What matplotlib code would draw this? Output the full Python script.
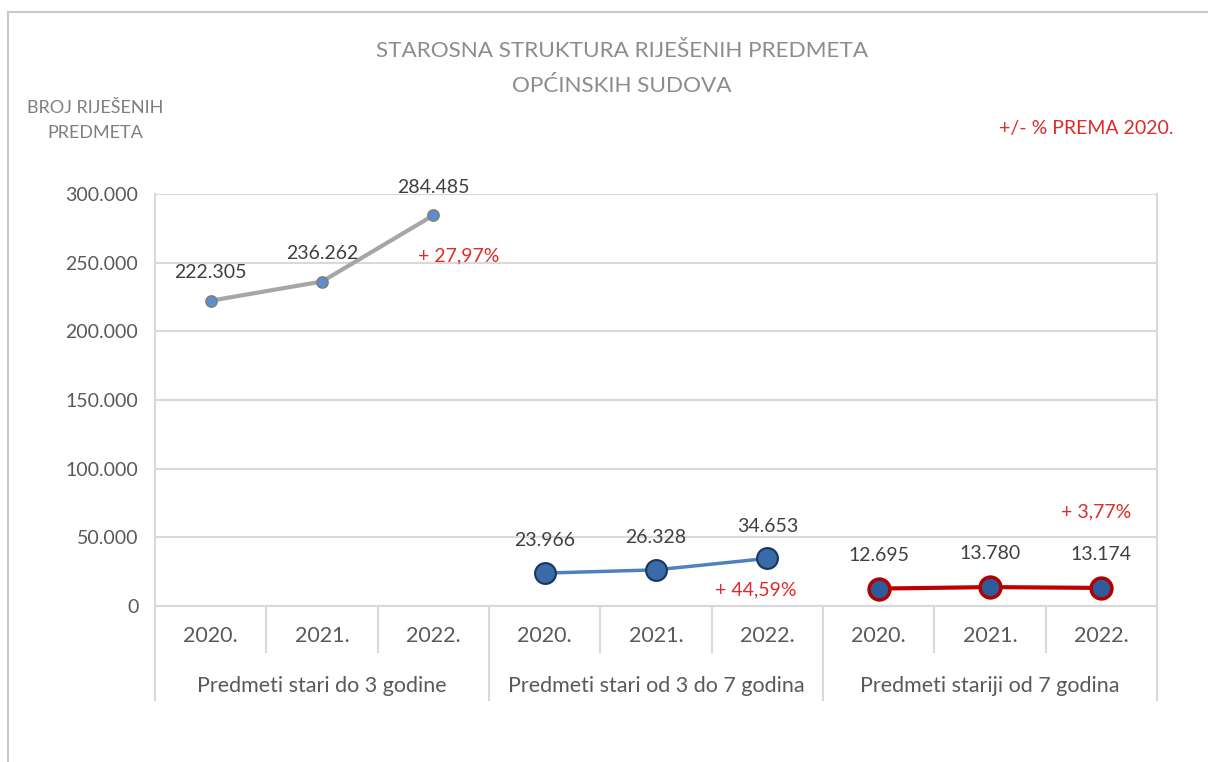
import matplotlib.pyplot as plt
from matplotlib.lines import Line2D

years = ['2020.', '2021.', '2022.']
groups = ['Predmeti stari do 3 godine', 'Predmeti stari od 3 do 7 godina', 'Predmeti stariji od 7 godina']
old_to_3 = [222305, 236262, 284485]
old_3_to_7 = [23966, 26328, 34653]
older_7 = [12695, 13780, 13174]
change_pct = ['+ 27,97%', '+ 44,59%', '+ 3,77%']
yticks = [0, 50000, 100000, 150000, 200000, 250000, 300000]

plt.rcParams['font.family'] = ['Lato', 'DejaVu Sans']

grid_c = '#d9d9d9'
text_c = '#595959'
label_c = '#404040'
red_c = '#e02b2b'


def fmt(v):
    return f'{v:,}'.replace(',', '.')


fig = plt.figure(figsize=(12.08, 7.62), dpi=100)
ax = fig.add_axes([0.1283, 0.2047, 0.8295, 0.5407])

# outer chart border (left and top only visible)
fig.add_artist(Line2D([0.0066, 0.0066], [0, 0.984], color='#c8c8c8', lw=1.5))
fig.add_artist(Line2D([0.0066, 1.0], [0.984, 0.984], color='#c8c8c8', lw=1.5))

ax.set_xlim(-0.5, 8.5)
ax.set_ylim(0, 300000)
ax.set_yticks(yticks)
ax.set_yticklabels([fmt(v) for v in yticks], color=text_c, fontsize=14)
ax.tick_params(axis='y', length=0, pad=12)
ax.set_xticks([])
ax.yaxis.grid(True, color=grid_c, lw=1.5)
ax.set_axisbelow(True)
for s in ['top', 'bottom']:
    ax.spines[s].set_visible(False)
for s in ['left', 'right']:
    ax.spines[s].set_color(grid_c)
    ax.spines[s].set_linewidth(1.5)

series = [old_to_3, old_3_to_7, older_7]
styles = [
    dict(color='#a6a6a6', lw=3, marker='o', ms=8, mfc='#5b8fd0', mec='#7f7f7f', mew=1.2),
    dict(color='#4f81bd', lw=2.5, marker='o', ms=15, mfc='#3a6aa8', mec='#17375e', mew=1.5),
    dict(color='#c00000', lw=3, marker='o', ms=15, mfc='#2e5c9a', mec='#b00000', mew=2.5),
]
label_off = [14, 17, 18]
for i, (vals, st) in enumerate(zip(series, styles)):
    xs = [3 * i + j for j in range(3)]
    ax.plot(xs, vals, zorder=3, **st)
    for x, v in zip(xs, vals):
        ax.annotate(fmt(v), (x, v), xytext=(0, label_off[i]), textcoords='offset points',
                    ha='center', va='bottom', fontsize=14, color=label_c)

# percent change annotations
ax.annotate(change_pct[0], (2, old_to_3[2]), xytext=(18, -29), textcoords='offset points',
            ha='center', va='center', fontsize=14, color=red_c)
ax.annotate(change_pct[1], (5, old_3_to_7[2]), xytext=(-8, -23), textcoords='offset points',
            ha='center', va='center', fontsize=14, color=red_c)
ax.annotate(change_pct[2], (8, older_7[2]), xytext=(-4, 55), textcoords='offset points',
            ha='center', va='center', fontsize=14, color=red_c)

# multi-level category axis
tr = ax.get_xaxis_transform()
ax.plot([-0.5, 8.5], [0, 0], transform=tr, color=grid_c, lw=1.5, clip_on=False)
for k in range(10):
    x = k - 0.5
    bottom = -0.228 if k % 3 == 0 else -0.112
    ax.plot([x, x], [0, bottom], transform=tr, color=grid_c, lw=1.5, clip_on=False)
for k in range(9):
    ax.text(k, -0.073, years[k % 3], transform=tr, ha='center', va='center',
            fontsize=15.5, color=text_c)
for g, name in enumerate(groups):
    ax.text(3 * g + 1, -0.195, name, transform=tr, ha='center', va='center',
            fontsize=15.5, color=text_c)

fig.text(0.515, 0.933, 'STAROSNA STRUKTURA RIJEŠENIH PREDMETA', ha='center', va='center',
         fontsize=16.2, color='#8c8c8c')
fig.text(0.515, 0.887, 'OPĆINSKIH SUDOVA', ha='center', va='center',
         fontsize=16.2, color='#8c8c8c')
fig.text(0.079, 0.858, 'BROJ RIJEŠENIH', ha='center', va='center', fontsize=13, color='#7f7f7f')
fig.text(0.079, 0.825, 'PREDMETA', ha='center', va='center', fontsize=13, color='#7f7f7f')
fig.text(0.899, 0.832, '+/- % PREMA 2020.', ha='center', va='center', fontsize=14, color=red_c)

fig.savefig('out.png', dpi=100, facecolor='white')
